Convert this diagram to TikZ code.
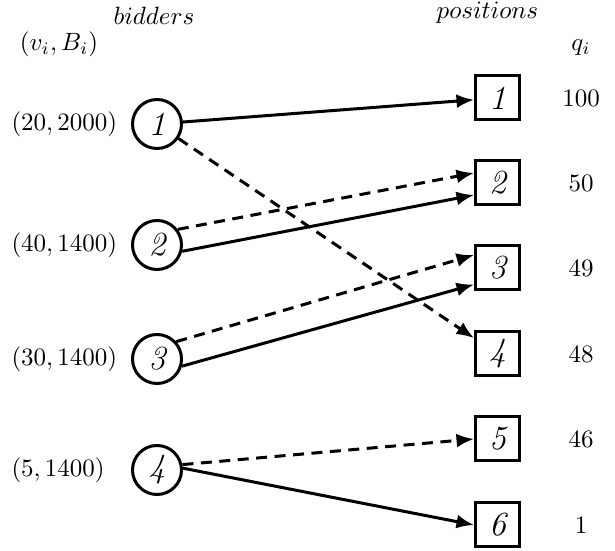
\documentclass[tikz,border=0pt]{standalone}
\usetikzlibrary{arrows.meta}
\begin{document}
\begin{tikzpicture}[x=0.4pt,y=-0.4pt,
  bidder/.style={circle,draw,line width=1.2pt,minimum size=19.6pt,inner sep=0pt,font=\fontsize{13.5}{15}\selectfont\itshape},
  posbox/.style={rectangle,draw,line width=1.2pt,minimum size=17.6pt,inner sep=0pt,font=\fontsize{13.5}{15}\selectfont\itshape},
  lbl/.style={anchor=west,inner sep=0pt},
  conn/.style={line width=1.2pt,-{Latex[length=7pt,width=5.6pt]}},
  dsh/.style={conn,dash pattern=on 4.4pt off 3pt}]
\useasboundingbox (0,0) rectangle (615,551);
\node[anchor=base] (hb) at (154,25) {$bidders$};
\node[anchor=base] (hp) at (487.5,19) {$positions$};
\node[anchor=base] (hv) at (59,51) {$(v_i,B_i)$};
\node[anchor=base] (hq) at (581,51) {$q_i$};
\node[bidder] (c1) at (157,124) {1};
\node[bidder] (c2) at (157,245) {2};
\node[bidder] (c3) at (157,359) {3};
\node[bidder] (c4) at (157,470) {4};
\node[lbl] (l1) at (11,124) {$(20,2000)$};
\node[lbl] (l2) at (11,245) {$(40,1400)$};
\node[lbl] (l3) at (11,359) {$(30,1400)$};
\node[lbl] (l4) at (11,470) {$(5,1400)$};
\node[posbox] (b1) at (497.5,98) {1};
\node[posbox] (b2) at (497.5,183) {2};
\node[posbox] (b3) at (497.5,268) {3};
\node[posbox] (b4) at (497.5,354) {4};
\node[posbox] (b5) at (497.5,439) {5};
\node[posbox] (b6) at (497.5,525) {6};
\node (q1) at (581,98) {100};
\node (q2) at (581,183) {50};
\node (q3) at (581,268) {49};
\node (q4) at (581,354) {48};
\node (q5) at (581,439) {46};
\node (q6) at (581,525) {1};
\draw[conn] (c1) -- (b1);
\draw[dsh] (c1) -- (b4);
\draw[dsh] (c2.37) -- ([yshift=4pt]b2.west);
\draw[conn] (c2.-14) -- ([yshift=-4.8pt]b2.west);
\draw[dsh] (c3.42) -- ([yshift=5.2pt]b3.west);
\draw[conn] (c3.-16) -- ([yshift=-6.6pt]b3.west);
\draw[dsh] (c4.12) -- (b5.west);
\draw[conn] (c4.4) -- (b6.west);
\end{tikzpicture}
\end{document}
